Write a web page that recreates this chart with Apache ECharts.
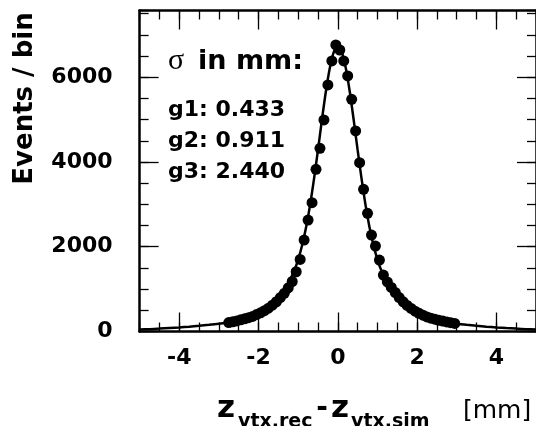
<!DOCTYPE html>
<html><head><meta charset="utf-8">
<script src="https://cdn.jsdelivr.net/npm/echarts@6/dist/echarts.min.js"></script>
<style>html,body{margin:0;padding:0;background:#fff}#c{width:536px;height:426px}</style>
</head><body><div id="c"></div>
<script>
// Histogram bins (bin centres in mm) and counts
const binCenters = [-2.75,-2.65,-2.55,-2.45,-2.35,-2.25,-2.15,-2.05,-1.95,-1.85,-1.75,-1.65,-1.55,-1.45,-1.35,-1.25,-1.15,-1.05,-0.95,-0.85,-0.75,-0.65,-0.55,-0.45,-0.35,-0.25,-0.15,-0.05,
  0.05,0.15,0.25,0.35,0.45,0.55,0.65,0.75,0.85,0.95,1.05,1.15,1.25,1.35,1.45,1.55,1.65,1.75,1.85,1.95,2.05,2.15,2.25,2.35,2.45,2.55,2.65,2.75,2.85,2.95];
const binCounts = [210,230,250,275,300,325,355,400,440,490,550,620,702,800,900,1030,1180,1410,1702,2158,2630,3039,3828,4323,4993,5818,6385,6763,
  6643,6385,6030,5480,4732,3984,3355,2789,2276,2016,1686,1332,1170,1040,920,800,700,615,545,480,430,385,345,315,290,265,245,225,207,190];
const curveX = [-5,-4.75,-4.5,-4.25,-4,-3.75,-3.5,-3.25,-3,-2.75,-2.5,-2.25,-2,-1.75,-1.5,-1.4,-1.3,-1.2,-1.1,-1,-0.9,-0.8,-0.7,-0.6,-0.5,-0.4,-0.3,-0.2,-0.1,0,
  0.1,0.2,0.3,0.4,0.5,0.6,0.7,0.8,0.9,1,1.1,1.2,1.3,1.4,1.5,1.75,2,2.25,2.5,2.75,3,3.25,3.5,3.75,4,4.25,4.5,4.75,5];
const curveY = [46,56,68,82,97,114,134,157,184,218,265,335,438,592,814,928,1064,1230,1436,1699,2035,2460,2983,3600,4285,4999,5670,6224,6600,6750,
  6600,6224,5670,4999,4285,3600,2983,2460,2035,1699,1436,1230,1064,928,814,592,438,335,265,218,184,157,134,114,97,82,68,56,46];
// Axis ticks and labels
const xMajorTicks = [-4,-2,0,2,4];
const yMajorTicks = [0,2000,4000,6000];
const xRange = [-5,5];
const yRange = [0,7575];
const sigmaTitle = 'in mm:';
const sigmaLabels = ['g1: 0.433','g2: 0.911','g3: 2.440'];
const yTitle = 'Events / bin';

const FB = 'DejaVu Sans';
const chart = echarts.init(document.getElementById('c'), null, {renderer:'canvas'});
const lineStyle = {color:'#000', width:2.5};
const plain = v => String(v);
function xAx(pos, major, lines, labels){
  return {type:'value', position:pos, min:xRange[0], max:xRange[1],
    interval: major?undefined:0.5,
    axisLine:{show:lines, onZero:false, lineStyle},
    axisTick:{show:true, inside:true, length: major?19:9, lineStyle:{color:'#000',width:1.3},
      customValues: major?xMajorTicks:undefined},
    axisLabel:{show:labels, customValues: major?xMajorTicks:undefined, margin:16, formatter:plain,
      fontFamily:FB, fontWeight:'bold', fontSize:22, color:'#000'},
    splitLine:{show:false}};
}
function yAx(pos, major, lines, labels){
  return {type:'value', position:pos, min:yRange[0], max:yRange[1],
    interval: major?undefined:500,
    axisLine:{show:lines, onZero:false, lineStyle},
    axisTick:{show:true, inside:true, length: major?19:9, lineStyle:{color:'#000',width:1.3},
      customValues: major?yMajorTicks:undefined},
    axisLabel:{show:labels, customValues: major?yMajorTicks:undefined, margin:27, formatter:plain,
      fontFamily:FB, fontWeight:'bold', fontSize:22, color:'#000'},
    splitLine:{show:false}};
}
const pts = binCenters.map((x,i)=>[x,binCounts[i]]);
const crv = curveX.map((x,i)=>[x,curveY[i]]);
const gl = [];
gl.push({type:'text', x:168, y:61, style:{text:'σ', font:'normal 30px "Liberation Serif"', fill:'#000', align:'left', verticalAlign:'middle'}});
gl.push({type:'text', x:198, y:62, style:{text:sigmaTitle, font:'bold 27px "DejaVu Sans"', fill:'#000', align:'left', verticalAlign:'middle'}});
const gy = [110, 141, 172];
sigmaLabels.forEach((t,i)=>gl.push({type:'text', x:168, y:gy[i], style:{text:t, font:'bold 22px "DejaVu Sans"', fill:'#000', align:'left', verticalAlign:'middle'}}));
gl.push({type:'text', x:25, y:98.5, rotation:Math.PI/2, style:{text:yTitle, font:'bold 26px "DejaVu Sans"', fill:'#000', align:'center', verticalAlign:'middle'}});
// x title pieces
gl.push({type:'text', x:217, y:409, style:{text:'z', font:'bold 31px "DejaVu Sans"', fill:'#000', align:'left', verticalAlign:'middle'}});
gl.push({type:'text', x:238, y:422, style:{text:'vtx,rec', font:'bold 19px "DejaVu Sans"', fill:'#000', align:'left', verticalAlign:'middle'}});
gl.push({type:'text', x:322, y:409, style:{text:'-', font:'bold 28px "DejaVu Sans"', fill:'#000', align:'center', verticalAlign:'middle'}});
gl.push({type:'text', x:331, y:409, style:{text:'z', font:'bold 31px "DejaVu Sans"', fill:'#000', align:'left', verticalAlign:'middle'}});
gl.push({type:'text', x:351, y:422, style:{text:'vtx,sim', font:'bold 19px "DejaVu Sans"', fill:'#000', align:'left', verticalAlign:'middle'}});
gl.push({type:'text', x:463, y:411, style:{text:'[mm]', font:'normal 25px "DejaVu Sans"', fill:'#000', align:'left', verticalAlign:'middle'}});

chart.setOption({
  animation:false,
  backgroundColor:'#fff',
  grid:{left:139.6, top:10.5, width:397.4, height:321, containLabel:false},
  xAxis:[xAx('bottom',false,true,false), xAx('bottom',true,false,true), xAx('top',false,true,false), xAx('top',true,false,false)],
  yAxis:[yAx('left',false,true,false), yAx('left',true,false,true), yAx('right',false,true,false), yAx('right',true,false,false)],
  series:[
    {type:'line', data:crv, xAxisIndex:0, yAxisIndex:0, smooth:0.3, showSymbol:false, symbol:'none',
      lineStyle:{color:'#000', width:2.5}, z:2, clip:true},
    {type:'scatter', data:pts, xAxisIndex:0, yAxisIndex:0, symbol:'circle', symbolSize:11,
      itemStyle:{color:'#000', opacity:1}, z:3}
  ],
  graphic:gl
});
</script></body></html>
